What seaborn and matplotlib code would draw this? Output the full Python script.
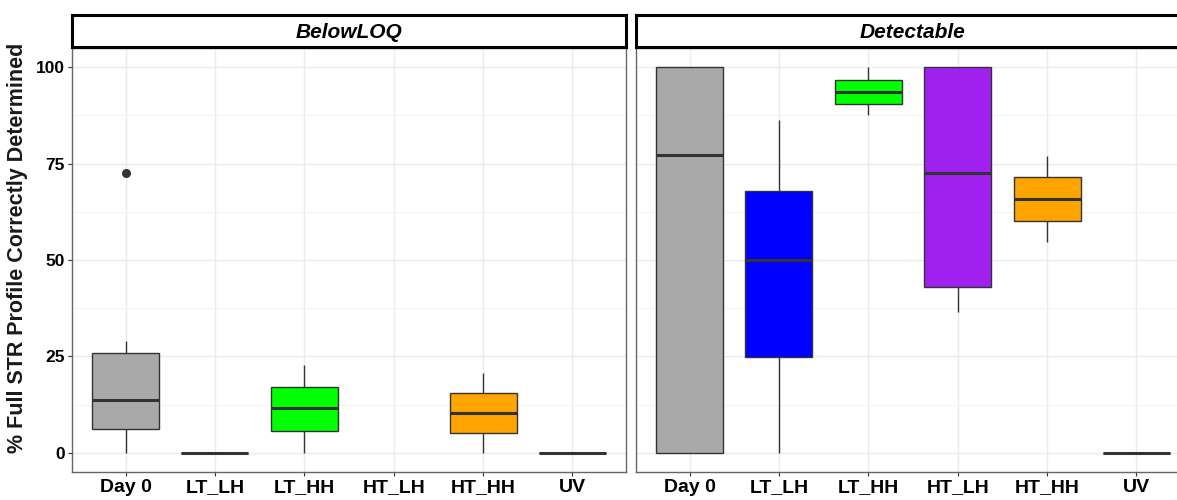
import pandas as pd
import matplotlib.pyplot as plt
import matplotlib.ticker as mticker
import seaborn as sns

# Categories and colours
groups = ["Day 0", "LT_LH", "LT_HH", "HT_LH", "HT_HH", "UV"]
colors = ["#A9A9A9", "#0000FF", "#00FF00", "#A020F0", "#FFA500", "#FF0000"]
panels = ["BelowLOQ", "Detectable"]

# Box summaries: low whisker, Q1, median, Q3, high whisker
below_day0 = [0, 6.2, 13.7, 26.0, 29.1]
below_lt_lh = [0, 0, 0, 0, 0]
below_lt_hh = [0, 5.7, 11.5, 17.0, 22.7]
below_ht_hh = [0, 5.2, 10.4, 15.5, 20.8]
below_uv = [0, 0, 0, 0, 0]
below_outlier_groups = ["Day 0"]
below_outlier_values = [72.6]

det_day0 = [0, 0, 77.2, 100, 100]
det_lt_lh = [0, 24.9, 49.9, 68.0, 86.2]
det_lt_hh = [87.5, 90.6, 93.7, 96.8, 100]
det_ht_lh = [36.4, 43.1, 72.7, 100, 100]
det_ht_hh = [54.6, 60.1, 65.8, 71.5, 77.0]
det_uv = [0, 0, 0, 0, 0]

below = {"Day 0": below_day0, "LT_LH": below_lt_lh, "LT_HH": below_lt_hh,
         "HT_HH": below_ht_hh, "UV": below_uv}
detect = {"Day 0": det_day0, "LT_LH": det_lt_lh, "LT_HH": det_lt_hh,
          "HT_LH": det_ht_lh, "HT_HH": det_ht_hh, "UV": det_uv}

rows = []
for panel, d in zip(panels, [below, detect]):
    for g, vals in d.items():
        for v in vals:
            rows.append({"Panel": panel, "Group": g, "Value": v})
df = pd.DataFrame(rows)

sns.set_theme(style="white")
plt.rcParams["font.family"] = ["Liberation Sans", "DejaVu Sans"]
plt.rcParams["text.color"] = "black"

W, H = 1177, 500
fig = plt.figure(figsize=(W / 100, H / 100), dpi=100)

def frac(x0, y0, x1, y1):
    return [x0 / W, 1 - y1 / H, (x1 - x0) / W, (y1 - y0) / H]

panel_px = [(72, 626), (636, 1190)]
pal = dict(zip(groups, colors))

for i, panel in enumerate(panels):
    x0, x1 = panel_px[i]
    ax = fig.add_axes(frac(x0, 48, x1, 472))
    sub = df[df["Panel"] == panel]
    sns.boxplot(data=sub, x="Group", y="Value", order=groups, hue="Group",
                hue_order=groups, palette=pal, legend=False, width=0.75,
                linecolor="#333333", linewidth=1.0, showcaps=False,
                fliersize=0, saturation=1,
                medianprops=dict(linewidth=2.2), ax=ax)
    if panel == "BelowLOQ":
        sns.stripplot(x=below_outlier_groups, y=below_outlier_values,
                      order=groups, jitter=False, color="#333333", size=6.5,
                      ax=ax)
    ax.set_xlim(-0.6, 5.6)
    ax.set_ylim(-5, 105)
    ax.set_yticks([0, 25, 50, 75, 100])
    ax.yaxis.set_minor_locator(mticker.MultipleLocator(12.5))
    ax.set_axisbelow(True)
    ax.grid(which="major", color="#EBEBEB", linewidth=1.0)
    ax.grid(which="minor", axis="y", color="#F3F3F3", linewidth=0.7)
    ax.set_xlabel("")
    ax.set_ylabel("")
    for s in ax.spines.values():
        s.set_color("#666666")
        s.set_linewidth(1.0)
    ax.tick_params(axis="x", length=3, width=0.8, color="#333333",
                   labelsize=14, labelcolor="black", pad=2, bottom=True)
    ax.tick_params(axis="y", which="major", length=3, width=0.8,
                   color="#333333", labelsize=12.5, labelcolor="black",
                   pad=2, left=True)
    ax.tick_params(axis="y", which="minor", length=0)
    for lab in ax.get_xticklabels() + ax.get_yticklabels():
        lab.set_fontweight("bold")
    if i == 1:
        ax.tick_params(axis="y", which="major", length=0, labelleft=False)

    # facet strip
    sax = fig.add_axes(frac(x0, 15, x1, 47))
    sax.set_facecolor("white")
    sax.set_xticks([])
    sax.set_yticks([])
    for s in sax.spines.values():
        s.set_color("black")
        s.set_linewidth(2.2)
    sax.text(0.5, 0.45, panel, transform=sax.transAxes, ha="center",
             va="center", fontsize=15, fontweight="bold", style="italic")

fig.text(18 / W, 1 - 248 / H, "% Full STR Profile Correctly Determined",
         rotation=90, ha="center", va="center", fontsize=15.5,
         fontweight="bold", color="#1a1a1a")

fig.savefig("out.png", dpi=100)
